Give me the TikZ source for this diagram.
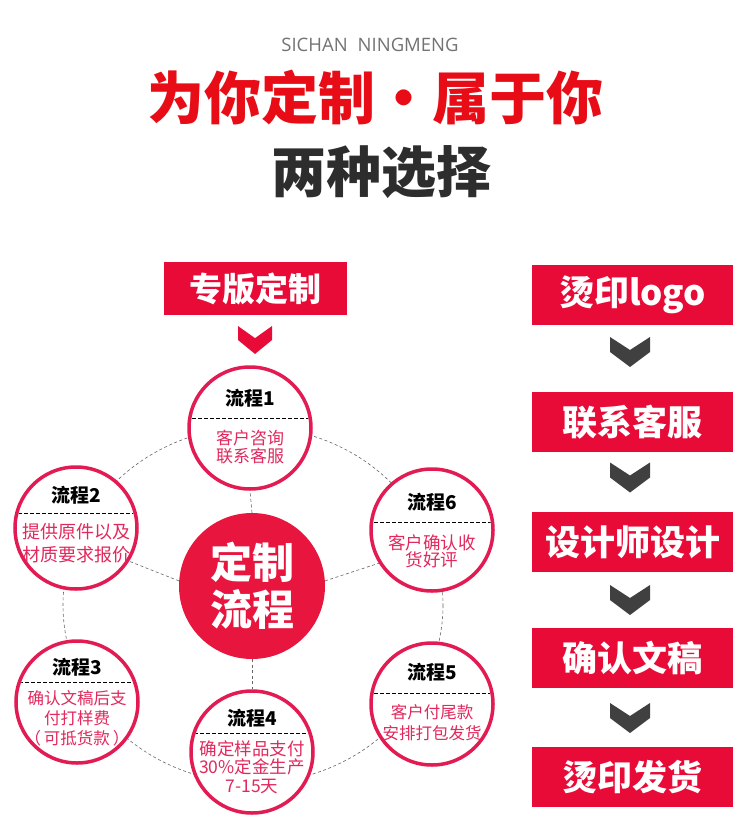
\documentclass[tikz,border=0pt]{standalone}
\usepackage{fontspec}
\newfontfamily\cjk{Noto Sans CJK SC}
\newfontfamily\latinsans{Open Sans}
\usetikzlibrary{calc}
\definecolor{titlered}{RGB}{232,12,22}
\definecolor{boxred}{RGB}{232,10,55}
\definecolor{ringred}{RGB}{226,28,82}
\definecolor{txtred}{RGB}{226,40,92}
\definecolor{ctrred}{RGB}{232,22,62}
\definecolor{darkchev}{RGB}{64,64,64}
\definecolor{darktxt}{RGB}{45,45,45}
\definecolor{graytxt}{RGB}{115,115,115}
\tikzset{
  stepcircle/.style={circle,draw=ringred,line width=3.5pt,fill=white,minimum size=122pt,inner sep=0pt},
  ttl/.style={font=\cjk\bfseries\fontsize{19}{20}\selectfont,text=black,inner sep=0pt},
  body/.style 2 args={font=\cjk\fontsize{#1}{#2}\selectfont,text=txtred,align=center,inner sep=0pt},
  chord/.style={draw=black,line width=1pt,dash pattern=on 3.5pt off 2.5pt},
  ringline/.style={draw=black!60,line width=0.6pt,dash pattern=on 3pt off 2.5pt},
  redbox/.style={fill=boxred,text=white,inner sep=0pt,minimum width=201pt,minimum height=60pt,font=\cjk\bfseries\fontsize{35}{36}\selectfont},
  chev/.pic={\fill[#1] (-20,-15) -- (0,-2) -- (20,-15) -- (20,0) -- (0,15) -- (-20,0) -- cycle;}
}
\newcommand\StepCirc[9]{%
  \node[stepcircle] (#1) at (#2) {};
  \node[ttl] (#1t) at ($(#1)+(0,#4)$) {#3};
  \begin{scope}
    \clip (#1) circle (59pt);
    \draw[chord] ($(#1)+(-70,#5)$) -- ($(#1)+(70,#5)$);
  \end{scope}
  \node[body={#7}{#8}] (#1b) at ($(#1)+(0,#6)$) {#9};%
}
\begin{document}
\begin{tikzpicture}[x=1pt,y=-1pt]
\useasboundingbox[fill=white] (0,0) rectangle (750,840);

% header
\node[font=\latinsans\fontsize{18.5}{19}\selectfont,text=graytxt,inner sep=0pt] (brand) at (370,45) {SICHAN\hspace{10pt}NINGMENG};
\node[font=\cjk\bfseries\fontsize{57}{57}\selectfont,text=titlered,inner sep=0pt] (title) at (375,97) {为你定制・属于你};
\node[font=\cjk\bfseries\fontsize{55}{55}\selectfont,text=darktxt,inner sep=0pt] (sub) at (381,172) {两种选择};

% left: custom plate
\node[fill=boxred,text=white,inner sep=0pt,minimum width=183pt,minimum height=53pt,font=\cjk\bfseries\fontsize{33}{34}\selectfont] (zb) at (255.5,288.5) {专版定制};
\pic[xscale=0.85,yscale=0.93] at (255,340) {chev=boxred};

% dashed ring
\draw[ringline] (253,605) ellipse [x radius=190, y radius=178];

% centre circle
\node[circle,fill=ctrred,minimum size=146pt,inner sep=0pt,text=white,align=center,font=\cjk\bfseries\fontsize{42}{47}\selectfont] (ctr) at (252,586) {定制\\流程};

% step circles
\StepCirc{c1}{250,428}{流程1}{-30}{-10}{19}{17}{17.5}{客户咨询\\联系客服}
\StepCirc{c2}{76,528}{流程2}{-33}{-15}{15.5}{18}{23}{提供原件以及\\材质要求报价}
\StepCirc{c3}{77,702}{流程3}{-35}{-20}{16}{16.5}{20}{确认文稿后支\\付打样费\\（\hspace{3pt}可抵货款\hspace{3pt}）}
\StepCirc{c4}{252,752}{流程4}{-34}{-19}{15}{17.5}{18.5}{确定样品支付\\30\%定金生产\\7-15天}
\StepCirc{c5}{432,704}{流程5}{-32}{-11}{19}{16.5}{21}{客户付尾款\\安排打包发货}
\StepCirc{c6}{432,530}{流程6}{-28}{-8}{21.5}{17.5}{17}{客户确认收\\货好评}

% spokes
\draw[ringline] (ctr.90) -- (c1.-90);
\draw[ringline] (ctr.-90) -- (c4.90);
\draw[ringline] (ctr.176) -- (c2.-32);
\draw[ringline] (ctr.4) -- (c6.-148);

% right column
\node[redbox] (r1) at (632.5,295) {烫印logo};
\node[redbox] (r2) at (632.5,422) {联系客服};
\node[redbox] (r3) at (632.5,542) {设计师设计};
\node[redbox] (r4) at (632.5,658) {确认文稿};
\node[redbox] (r5) at (632.5,777) {烫印发货};
\pic at (630,352) {chev=darkchev};
\pic at (630,477.5) {chev=darkchev};
\pic at (630,600) {chev=darkchev};
\pic at (630,718) {chev=darkchev};
\end{tikzpicture}
\end{document}
